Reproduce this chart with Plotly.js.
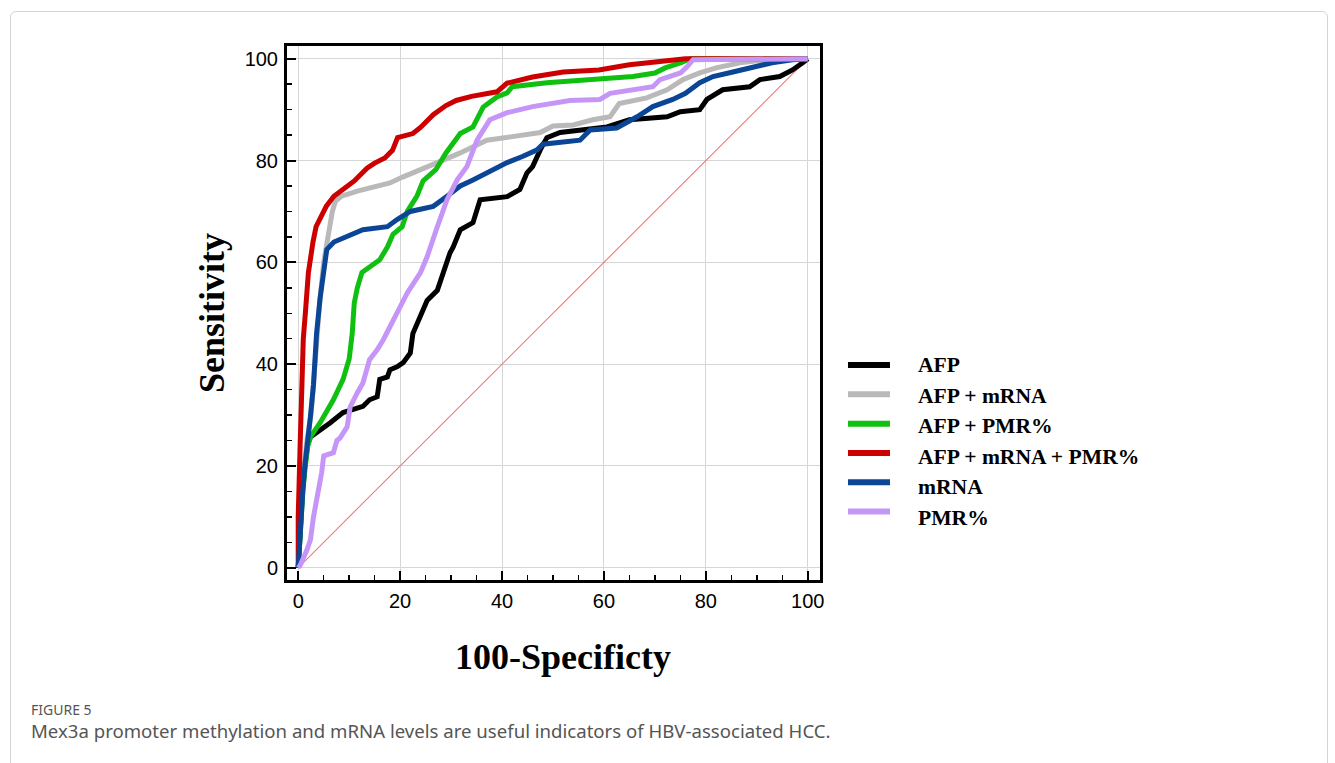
<!DOCTYPE html>
<html>
<head>
<meta charset="utf-8">
<script src="https://cdn.plot.ly/plotly-3.0.1.min.js"></script>
<style>
  html, body { margin: 0; padding: 0; background: #ffffff; }
  #wrap { position: relative; width: 1335px; height: 763px; overflow: hidden; }
  #frame { position: absolute; left: 10px; top: 11px; width: 1318px; height: 770px;
           border: 1px solid #d4d4d4; border-radius: 6px; box-sizing: border-box; }
  #chart { position: absolute; left: 0; top: 0; width: 1335px; height: 763px; }
</style>
</head>
<body>
<div id="wrap">
  <div id="frame"></div>
  <div id="chart"></div>
</div>
<script>
// ---- Data (100-Specificity, Sensitivity) ----
const seriesNames = ["AFP", "AFP + mRNA", "AFP + PMR%", "AFP + mRNA + PMR%", "mRNA", "PMR%"];
const seriesColors = ["#000000", "#b9b9b9", "#10c010", "#cc0000", "#0b4596", "#c596f7"];

const afpX = [0,0.3,0.8,1.3,1.8,2.4,4.3,6.3,8.8,10.8,12.7,14,15.5,16,17.5,18,19.4,20.6,22,22.5,23.9,25.3,27.3,28.4,29.8,30.4,31.8,34.3,35.7,41,43.5,44.9,46,47.5,48.8,51.4,55.3,60.6,65,72.4,75,78.8,80.2,83.3,88.6,90.6,94.5,97,99,100];
const afpY = [0,8,15,20,24,25.7,27,28.5,30.5,31,31.7,33,33.6,37,37.5,38.9,39.5,40.3,42.2,46,49,52.5,54.5,58,61.9,63,66.4,67.8,72.3,72.9,74.3,77.6,78.8,82.1,84.5,85.5,86,86.6,88,88.6,89.6,90,92,93.9,94.5,95.9,96.5,97.8,99.2,100];

const afpMrnaX = [0,0.5,1,1.7,2.5,3,3.6,4.2,5,5.6,6.2,6.7,7.3,8.5,11.6,15.5,18,20.6,23.3,27.3,31.8,34.3,37,42,47.5,50,54,57.8,61.2,63,68.4,72.4,75.5,78.8,82,86.7,92,100];
const afpMrnaY = [0,10,18,25,30,36,45,52,60,64,68,70,72,73,74,75,75.6,76.8,78,79.6,81.5,82.7,84,84.7,85.5,86.8,87,88,88.6,91.2,92.3,93.9,95.9,97.2,98.2,99.2,99.8,100];

const afpPmrX = [0,0.4,0.9,1.4,1.9,2.4,4.3,6.9,8.8,10,10.6,11,11.6,12.5,14,16,17.5,18.6,20.4,21.4,23.3,24.5,27,29,31.8,34.3,36.3,39,41,42,48.8,59,65.7,70,72,75,77,100];
const afpPmrY = [0,8,15,20,24,25.7,28.5,33,37,41,46,52,55,58,59,60.5,63,65.5,67,70,73,76,78.2,81.5,85.3,86.6,90.5,92.5,93.3,94.5,95.3,95.9,96.5,97.2,98.2,99.2,100,100];

const allX = [0,0,0.4,0.6,1,1.4,2,2.9,3.5,5,5.5,7,9,11,13.5,15,17,18.5,19.5,22.5,24,26.5,29,31,34,39,41,46,52,59,65,70,76,100];
const allY = [0,10,25,35,45,50,58,64,67,70,71,73,74.5,76,78.5,79.5,80.5,82,84.5,85.3,86.5,89,90.8,91.8,92.6,93.5,95.2,96.4,97.4,97.8,98.8,99.4,100,100];

const mrnaX = [0,0.4,0.9,1.3,1.7,2.4,3,3.6,4.3,5,5.6,7,9.6,12.7,17.5,19.4,22,26.5,29.2,31.8,34.3,37,41,44,46.9,48,55.3,57.3,62.5,66.5,69.6,73.5,76,78.8,81.4,85.3,89.2,93,97,100];
const mrnaY = [0,8,15,20,24.5,29.7,36,46,53,58,62.5,64,65,66.4,67,68.4,70,71,73,75,76.2,77.6,79.6,80.8,82.1,83.2,84,86,86.4,88.6,90.6,92,93.2,95.3,96.5,97.4,98.4,99.2,99.8,100];

const pmrX = [0,0.4,1.7,2.4,3,3.9,4.6,5,6.9,7.6,8.2,9.6,10.2,11.6,12.7,14,15.5,16.7,18,19.4,20.6,21.4,24,25.3,27.3,29.2,31.2,33.1,35.1,36.3,37.6,41,46,53.3,59.2,61.2,69.6,71,75,76.3,77.5,100];
const pmrY = [0,0.5,3.5,5.5,10,14.7,18.7,22,22.6,25,25.5,27.7,31.6,34.4,36.3,40.9,42.8,44.8,47.3,50,52.7,54,58,61.1,67,72.3,76.2,78.8,84,86,88,89.4,90.6,91.8,92,93.2,94.5,95.9,97.2,98.4,99.8,100];

const refX = [0, 100];
const refY = [0, 100];

const xTickVals = [0, 20, 40, 60, 80, 100];
const yTickVals = [0, 20, 40, 60, 80, 100];

const xTitle = "100-Specificty";
const yTitle = "Sensitivity";
const figLabel = "FIGURE 5";
const caption = "Mex3a promoter methylation and mRNA levels are useful indicators of HBV-associated HCC.";

const seriesX = [afpX, afpMrnaX, afpPmrX, allX, mrnaX, pmrX];
const seriesY = [afpY, afpMrnaY, afpPmrY, allY, mrnaY, pmrY];

// ---- Traces ----
const traces = [{
  x: refX, y: refY, mode: "lines", type: "scatter",
  line: { color: "#f07a7a", width: 1.1 }, showlegend: false, hoverinfo: "skip"
}];
seriesNames.forEach((n, i) => {
  traces.push({
    x: seriesX[i], y: seriesY[i], name: n, type: "scatter", mode: "lines",
    line: { color: seriesColors[i], width: 5, shape: "linear" },
    showlegend: false
  });
});

// ---- Custom legend (lines + text) ----
const serif = "Liberation Serif, Times New Roman, serif";
const shapes = [];
const annotations = [];
const legLineX0 = 1.0525, legLineX1 = 1.1313, legTextX = 1.1802;
const legLineTop = 0.4026, legLineStep = 0.0549;
const legTextTop = 0.4026, legTextStep = 0.0573;
seriesNames.forEach((n, i) => {
  const yl = legLineTop - i * legLineStep;
  shapes.push({ type: "line", xref: "paper", yref: "paper",
    x0: legLineX0, x1: legLineX1, y0: yl, y1: yl,
    line: { color: seriesColors[i], width: 6 } });
  annotations.push({ xref: "paper", yref: "paper", x: legTextX, y: legTextTop - i * legTextStep,
    xanchor: "left", yanchor: "middle", showarrow: false, text: n,
    font: { family: serif, size: 21.6, color: "#000", weight: "bold" } });
});

// axis titles
annotations.push({ xref: "paper", yref: "paper", x: 0.518, y: -0.144, xanchor: "center", yanchor: "middle",
  showarrow: false, text: xTitle, font: { family: serif, size: 36, color: "#000", weight: "bold" } });
annotations.push({ xref: "paper", yref: "paper", x: -0.1407, y: 0.50, xanchor: "center", yanchor: "middle",
  showarrow: false, textangle: -90, text: yTitle, font: { family: serif, size: 36, color: "#000", weight: "bold" } });

// caption
annotations.push({ xref: "paper", yref: "paper", x: -0.4841, y: -0.2425, xanchor: "left", yanchor: "middle",
  showarrow: false, text: figLabel,
  font: { family: "Noto Sans, Open Sans, sans-serif", size: 14, color: "#555555" } });
annotations.push({ xref: "paper", yref: "paper", x: -0.4841, y: -0.2825, xanchor: "left", yanchor: "middle",
  showarrow: false, text: caption,
  font: { family: "Noto Sans, Open Sans, sans-serif", size: 18.6, color: "#555555" } });

const axisCommon = {
  showline: true, mirror: true, linecolor: "#000", linewidth: 3,
  ticks: "inside", ticklen: 9, tickwidth: 2, tickcolor: "#000",
  showgrid: true, gridcolor: "#d6d6d6", gridwidth: 1, zeroline: false,
  tickfont: { family: "Liberation Sans, Arial, sans-serif", size: 20, color: "#000" },
  minor: { dtick: 5, ticks: "inside", ticklen: 5, tickwidth: 1.5, tickcolor: "#000", showgrid: false },
  fixedrange: true
};

const layout = {
  width: 1335, height: 763,
  margin: { l: 287, r: 515, t: 46, b: 183 },
  paper_bgcolor: "rgba(0,0,0,0)", plot_bgcolor: "#ffffff",
  showlegend: false,
  xaxis: Object.assign({}, axisCommon, {
    range: [-2.2, 102.4], tickmode: "array", tickvals: xTickVals, ticktext: xTickVals.map(String),
    ticklabelstandoff: 1
  }),
  yaxis: Object.assign({}, axisCommon, {
    range: [-2.4, 102.5], tickmode: "array", tickvals: yTickVals, ticktext: yTickVals.map(String),
    ticklabelstandoff: 2
  }),
  shapes: shapes,
  annotations: annotations
};

Plotly.newPlot("chart", traces, layout, { displayModeBar: false, staticPlot: true });
</script>
</body>
</html>
